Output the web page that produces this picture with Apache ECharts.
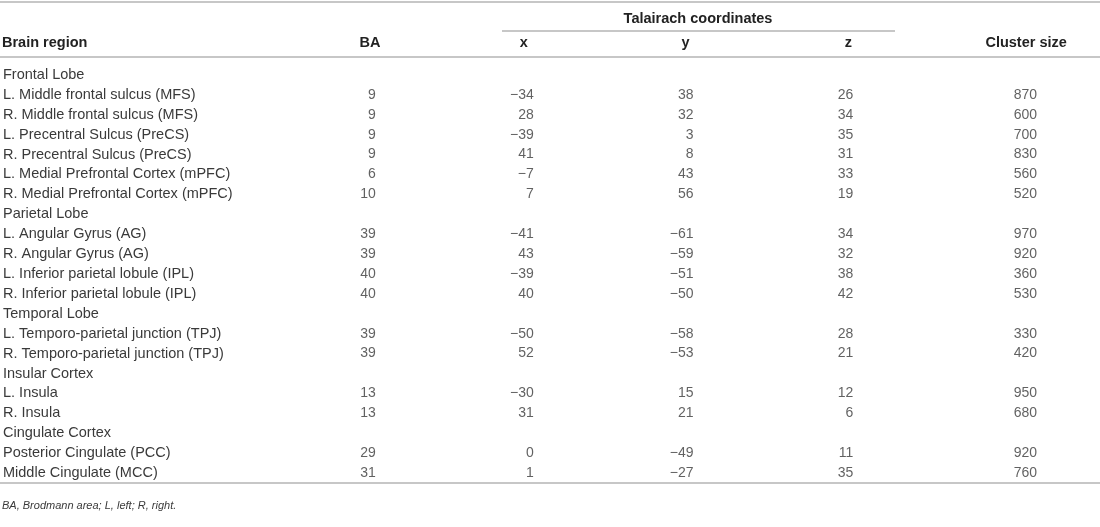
<!DOCTYPE html>
<html>
<head>
<meta charset="utf-8">
<title>Talairach coordinates of brain regions</title>
<script src="https://cdn.jsdelivr.net/npm/echarts@6/dist/echarts.min.js"></script>
<style>
  html, body { margin: 0; padding: 0; background: #fff; }
  #chart { width: 1100px; height: 527px; }
</style>
</head>
<body>
<div id="chart"></div>
<script>
// Table rows; group headings (lobes) carry no values
const regions = [
  'Frontal Lobe',
  'L. Middle frontal sulcus (MFS)',
  'R. Middle frontal sulcus (MFS)',
  'L. Precentral Sulcus (PreCS)',
  'R. Precentral Sulcus (PreCS)',
  'L. Medial Prefrontal Cortex (mPFC)',
  'R. Medial Prefrontal Cortex (mPFC)',
  'Parietal Lobe',
  'L. Angular Gyrus (AG)',
  'R. Angular Gyrus (AG)',
  'L. Inferior parietal lobule (IPL)',
  'R. Inferior parietal lobule (IPL)',
  'Temporal Lobe',
  'L. Temporo-parietal junction (TPJ)',
  'R. Temporo-parietal junction (TPJ)',
  'Insular Cortex',
  'L. Insula',
  'R. Insula',
  'Cingulate Cortex',
  'Posterior Cingulate (PCC)',
  'Middle Cingulate (MCC)',
];
const baValues     = [null, 9, 9, 9, 9, 6, 10, null, 39, 39, 40, 40, null, 39, 39, null, 13, 13, null, 29, 31];
const xValues      = [null, -34, 28, -39, 41, -7, 7, null, -41, 43, -39, 40, null, -50, 52, null, -30, 31, null, 0, 1];
const yValues      = [null, 38, 32, 3, 8, 43, 56, null, -61, -59, -51, -50, null, -58, -53, null, 15, 21, null, -49, -27];
const zValues      = [null, 26, 34, 35, 31, 33, 19, null, 34, 32, 38, 42, null, 28, 21, null, 12, 6, null, 11, 35];
const clusterSizes = [null, 870, 600, 700, 830, 560, 520, null, 970, 920, 360, 530, null, 330, 420, null, 950, 680, null, 920, 760];

const columns = ['BA', 'x', 'y', 'z', 'Cluster size'];
const firstHeading = 'Brain region';
const spanHeading = 'Talairach coordinates';
const footnote = 'BA, Brodmann area; L, left; R, right.';

const FONT = '"Liberation Sans", Arial, sans-serif';
const TEXT = '#3a3a3a';
const HEAD = '#222';
const RULE = '#8f8f8f';

// small nudges (px) so columns sit where the printed table has them
const valueShift = [13, 7, 3, -1, 19];
const headShift = [7, -3, -5, -6, 8];

function fmt(v) {
  return v < 0 ? '\u2212' + Math.abs(v) : String(v);
}

const columnValues = [baValues, xValues, yValues, zValues, clusterSizes];

const series = columns.map((name, ci) => ({
  type: 'scatter',
  name: name,
  symbolSize: 1,
  silent: true,
  itemStyle: { color: 'transparent' },
  data: columnValues[ci]
    .map((v, ri) => (v === null ? null : [ci, ri, v]))
    .filter(d => d !== null),
  label: {
    show: true,
    position: 'inside',
    align: 'right',
    offset: [valueShift[ci], 0],
    formatter: p => fmt(p.value[2]),
    fontFamily: FONT,
    fontSize: 14,
    color: TEXT,
  },
}));

const chart = echarts.init(document.getElementById('chart'));

chart.setOption({
  backgroundColor: '#fff',
  animation: false,
  grid: { left: 280, top: 65, width: 854.5, height: 418 },
  xAxis: {
    type: 'category',
    position: 'top',
    data: columns.map((c, i) => ({
      value: c,
      textStyle: {
        padding: headShift[i] > 0 ? [0, 0, 0, 2 * headShift[i]] : [0, -2 * headShift[i], 0, 0],
      },
    })),
    axisLine: { show: false },
    axisTick: { show: false },
    splitLine: { show: false },
    axisLabel: {
      margin: 15,
      fontFamily: FONT,
      fontSize: 14.5,
      fontWeight: 'bold',
      color: HEAD,
    },
  },
  yAxis: {
    type: 'category',
    inverse: true,
    data: regions,
    axisLine: { show: false },
    axisTick: { show: false },
    splitLine: { show: false },
    axisLabel: {
      align: 'left',
      margin: 278,
      fontFamily: FONT,
      fontSize: 14.5,
      color: TEXT,
    },
  },
  graphic: [
    // table rules
    { type: 'line', shape: { x1: 0, y1: 2, x2: 1100, y2: 2 }, style: { stroke: RULE, lineWidth: 1 } },
    { type: 'line', shape: { x1: 502, y1: 31, x2: 895, y2: 31 }, style: { stroke: RULE, lineWidth: 1 } },
    { type: 'line', shape: { x1: 0, y1: 57, x2: 1100, y2: 57 }, style: { stroke: RULE, lineWidth: 1 } },
    { type: 'line', shape: { x1: 0, y1: 483, x2: 1100, y2: 483 }, style: { stroke: RULE, lineWidth: 1 } },
    {
      type: 'text', x: 2, y: 43,
      style: { text: firstHeading, font: 'bold 14.5px ' + FONT, fill: HEAD, verticalAlign: 'middle' },
    },
    {
      type: 'text', x: 698, y: 18.5,
      style: { text: spanHeading, font: 'bold 14.5px ' + FONT, fill: HEAD, align: 'center', verticalAlign: 'middle' },
    },
    {
      type: 'text', x: 2, y: 506,
      style: { text: footnote, font: 'italic 11px ' + FONT, fill: TEXT, verticalAlign: 'middle' },
    },
  ],
  series: series,
});

window.addEventListener('resize', () => chart.resize());
</script>
</body>
</html>
